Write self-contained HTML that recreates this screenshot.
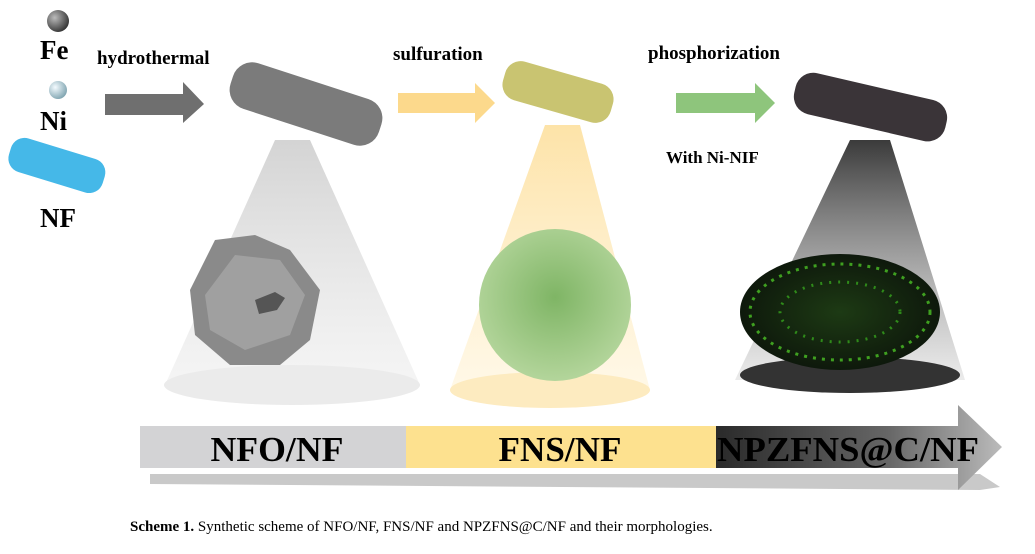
<!DOCTYPE html>
<html><head><meta charset="utf-8"><style>
html,body{margin:0;padding:0;background:#fff}
svg{display:block}
text{font-family:"Liberation Serif",serif}
</style></head><body>
<svg width="1035" height="554" viewBox="0 0 1035 554" xmlns="http://www.w3.org/2000/svg">
<defs>
<radialGradient id="fe" cx="0.35" cy="0.35" r="0.7"><stop offset="0" stop-color="#bbb"/><stop offset="1" stop-color="#333"/></radialGradient>
<radialGradient id="ni" cx="0.35" cy="0.35" r="0.7"><stop offset="0" stop-color="#f4fbff"/><stop offset="1" stop-color="#7fa4b0"/></radialGradient>
<linearGradient id="c1" x1="0" y1="0" x2="0" y2="1"><stop offset="0" stop-color="#cfcfcf" stop-opacity=".9"/><stop offset="1" stop-color="#eee" stop-opacity=".6"/></linearGradient>
<linearGradient id="c2" x1="0" y1="0" x2="0" y2="1"><stop offset="0" stop-color="#fde3a8"/><stop offset="1" stop-color="#fff5dd" stop-opacity=".7"/></linearGradient>
<linearGradient id="c3" x1="0" y1="0" x2="0" y2="1"><stop offset="0" stop-color="#3a3a3a"/><stop offset="1" stop-color="#ddd" stop-opacity=".6"/></linearGradient>
<linearGradient id="dk" x1="0" y1="0" x2="1" y2="0"><stop offset="0" stop-color="#2a2a2a"/><stop offset="0.6" stop-color="#666"/><stop offset="1" stop-color="#bbb"/></linearGradient>
<radialGradient id="gf" cx="0.5" cy="0.45" r="0.6"><stop offset="0" stop-color="#7fb565"/><stop offset="1" stop-color="#b8d8a0"/></radialGradient>
<radialGradient id="bf" cx="0.5" cy="0.5" r="0.6"><stop offset="0" stop-color="#1d3a14"/><stop offset="1" stop-color="#0b120a"/></radialGradient>
</defs>
<!-- cones -->
<polygon points="275,140 310,140 420,385 165,385" fill="url(#c1)"/>
<ellipse cx="292" cy="385" rx="128" ry="20" fill="#ebebeb"/>
<polygon points="545,125 580,125 650,390 450,390" fill="url(#c2)"/>
<ellipse cx="550" cy="390" rx="100" ry="18" fill="#fdebc0"/>
<polygon points="850,140 890,140 965,380 735,380" fill="url(#c3)"/>
<ellipse cx="850" cy="375" rx="110" ry="18" fill="#333"/>
<!-- morphologies -->
<path d="M190,290 L215,240 L255,235 L290,250 L320,290 L310,340 L280,365 L230,365 L195,335 Z" fill="#8a8a8a"/>
<path d="M205,295 L235,255 L280,260 L305,295 L290,335 L245,350 L210,330 Z" fill="#a0a0a0"/>
<path d="M255,300 l20,-8 l10,6 l-8,12 l-18,4 z" fill="#555"/>
<circle cx="555" cy="305" r="76" fill="url(#gf)"/>
<ellipse cx="840" cy="312" rx="100" ry="58" fill="url(#bf)"/>
<ellipse cx="840" cy="312" rx="90" ry="48" fill="none" stroke="#3fa020" stroke-width="3" stroke-dasharray="3 6"/>
<ellipse cx="840" cy="312" rx="60" ry="30" fill="none" stroke="#2f8a1a" stroke-width="3" stroke-dasharray="2 7"/>
<!-- elements -->
<circle cx="58" cy="21" r="11" fill="url(#fe)"/>
<text x="40" y="59" font-size="27" font-weight="bold">Fe</text>
<circle cx="58" cy="90" r="9" fill="url(#ni)"/>
<text x="40" y="130" font-size="27" font-weight="bold">Ni</text>
<rect x="8" y="148" width="98" height="35" rx="14" fill="#45b8e8" transform="rotate(17 57 165)"/>
<text x="40" y="227" font-size="27" font-weight="bold">NF</text>
<!-- arrows -->
<text x="97" y="64" font-size="19" font-weight="bold">hydrothermal</text>
<polygon points="105,94 183,94 183,82 204,104 183,123 183,115 105,115" fill="#6f6f6f"/>
<text x="393" y="60" font-size="19" font-weight="bold">sulfuration</text>
<polygon points="398,93 475,93 475,83 495,103 475,123 475,113 398,113" fill="#fcd98c"/>
<text x="648" y="59" font-size="19" font-weight="bold">phosphorization</text>
<polygon points="676,93 755,93 755,83 775,103 755,123 755,113 676,113" fill="#8ec57c"/>
<text x="666" y="163" font-size="17" font-weight="bold">With Ni-NIF</text>
<!-- blocks -->
<rect x="228" y="80" width="156" height="48" rx="20" fill="#7b7b7b" transform="rotate(18 306 104)"/>
<rect x="502" y="72" width="112" height="40" rx="16" fill="#c9c471" transform="rotate(16 558 92)"/>
<rect x="793" y="86" width="155" height="42" rx="18" fill="#3a3438" transform="rotate(13 870 107)"/>
<!-- bottom bar -->
<polygon points="150,474 980,474 1000,487 980,490 150,484" fill="#c9c9c9"/>
<rect x="140" y="426" width="266" height="42" fill="#d3d3d5"/>
<rect x="406" y="426" width="310" height="42" fill="#fde18f"/>
<polygon points="716,426 958,426 958,405 1002,447 958,490 958,468 716,468" fill="url(#dk)"/>
<text x="277" y="461" font-size="35" font-weight="bold" text-anchor="middle" textLength="133" lengthAdjust="spacingAndGlyphs">NFO/NF</text>
<text x="560" y="461" font-size="35" font-weight="bold" text-anchor="middle" textLength="123" lengthAdjust="spacingAndGlyphs">FNS/NF</text>
<text x="848" y="461" font-size="35" font-weight="bold" text-anchor="middle" textLength="262" lengthAdjust="spacingAndGlyphs">NPZFNS@C/NF</text>
<text x="130" y="531" font-size="15"><tspan font-weight="bold">Scheme 1.</tspan> Synthetic scheme of NFO/NF, FNS/NF and NPZFNS@C/NF and their morphologies.</text>
</svg>
</body></html>
